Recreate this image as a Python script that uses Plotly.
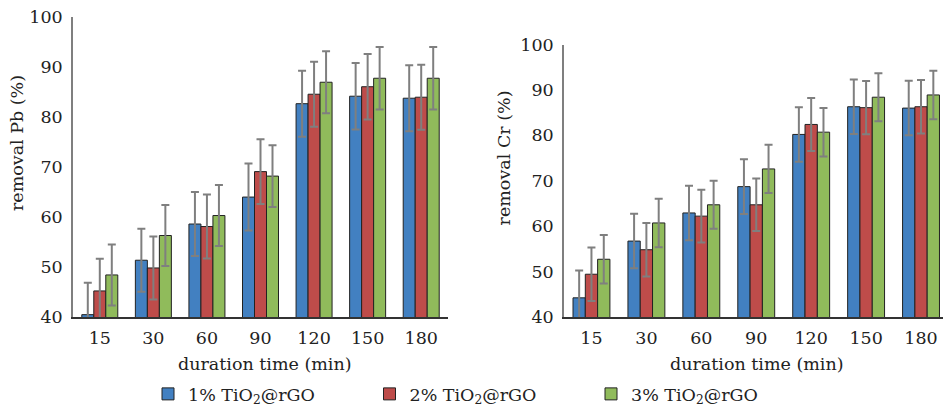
import plotly.graph_objects as go

categories = ["15", "30", "60", "90", "120", "150", "180"]
series_names = ["1% TiO<sub>2</sub>@rGO", "2% TiO<sub>2</sub>@rGO", "3% TiO<sub>2</sub>@rGO"]

pb_1 = [40.45, 51.35, 58.6, 64.0, 82.7, 84.2, 83.8]
pb_2 = [45.2, 49.8, 58.1, 69.1, 84.6, 86.1, 84.0]
pb_3 = [48.4, 56.3, 60.3, 68.2, 87.0, 87.8, 87.8]
pb_err_1 = [6.4, 6.3, 6.4, 6.7, 6.6, 6.65, 6.6]
pb_err_2 = [6.45, 6.3, 6.4, 6.5, 6.5, 6.55, 6.5]
pb_err_3 = [6.1, 6.1, 6.1, 6.2, 6.2, 6.25, 6.25]

cr_1 = [44.2, 56.7, 62.9, 68.7, 80.2, 86.3, 86.0]
cr_2 = [49.4, 54.8, 62.2, 64.7, 82.4, 86.1, 86.3]
cr_3 = [52.7, 60.7, 64.7, 72.6, 80.7, 88.4, 88.9]
cr_err_1 = [6.0, 6.0, 6.0, 6.05, 6.0, 6.0, 6.0]
cr_err_2 = [5.9, 5.9, 5.8, 5.8, 5.85, 5.85, 5.9]
cr_err_3 = [5.35, 5.35, 5.3, 5.3, 5.35, 5.3, 5.35]

colors = ["#4280C1", "#BE4C4A", "#90BB5B"]
FONT = "DejaVu Serif"
FS = 17.5
W, H = 943, 412

fig = go.Figure()
pb = [pb_1, pb_2, pb_3]
pb_err = [pb_err_1, pb_err_2, pb_err_3]
cr = [cr_1, cr_2, cr_3]
cr_err = [cr_err_1, cr_err_2, cr_err_3]

for i in range(3):
    fig.add_trace(go.Bar(
        x=categories, y=pb[i], name=series_names[i], legendgroup=str(i),
        marker=dict(color=colors[i], line=dict(color="#222222", width=1)),
        error_y=dict(type="data", array=pb_err[i], visible=True, color="#7F7F7F", thickness=2, width=4),
        xaxis="x", yaxis="y", showlegend=True,
    ))
for i in range(3):
    fig.add_trace(go.Bar(
        x=categories, y=cr[i], name=series_names[i], legendgroup=str(i),
        marker=dict(color=colors[i], line=dict(color="#222222", width=1)),
        error_y=dict(type="data", array=cr_err[i], visible=True, color="#7F7F7F", thickness=2, width=4),
        xaxis="x2", yaxis="y2", showlegend=False,
    ))

def px_x(p):
    return p / W

def px_y(p):
    return 1 - p / H

axis_common = dict(
    showgrid=False, zeroline=False, ticks="", showline=True, automargin=False,
    tickfont=dict(family=FONT, size=FS, color="#222222"),
)

fig.update_layout(
    template="none",
    width=W, height=H,
    margin=dict(l=0, r=0, t=0, b=0, pad=0),
    paper_bgcolor="white", plot_bgcolor="white",
    barmode="group", bargap=0.328, bargroupgap=0,
    font=dict(family=FONT, size=FS, color="#222222"),
    xaxis=dict(domain=[px_x(73), px_x(448)], anchor="y", type="category", range=[-0.5, 6.5],
               linecolor="#333333", linewidth=1.5, ticklabelstandoff=4, **axis_common),
    yaxis=dict(domain=[px_y(320), px_y(17.5)], anchor="x", range=[40, 100], dtick=10,
               linecolor="#7F7F7F", linewidth=1.5, ticklabelstandoff=5, **axis_common),
    xaxis2=dict(domain=[px_x(564), 1.0], anchor="y2", type="category", range=[-0.5, 6.4],
                linecolor="#333333", linewidth=1.5, ticklabelstandoff=4, **axis_common),
    yaxis2=dict(domain=[px_y(320), px_y(45)], anchor="x2", range=[40, 100], dtick=10,
                linecolor="#7F7F7F", linewidth=1.5, ticklabelstandoff=5, **axis_common),
    legend=dict(orientation="h", x=px_x(148), xanchor="left", y=px_y(398), yanchor="middle",
                font=dict(family=FONT, size=FS, color="#222222"),
                entrywidth=176.5, entrywidthmode="pixels", itemwidth=30,
                bgcolor="rgba(0,0,0,0)"),
)

titles = [
    ("duration time (min)", 265, 368, 0),
    ("duration time (min)", 756.5, 368, 0),
    ("removal Pb (%)", 16.5, 145, -90),
    ("removal Cr (%)", 503.5, 159.5, -90),
]
for text, xp, yp, ang in titles:
    fig.add_annotation(text=text, xref="paper", yref="paper", x=px_x(xp), y=px_y(yp),
                       xanchor="center", yanchor="middle", showarrow=False, textangle=ang,
                       font=dict(family=FONT, size=FS, color="#222222"))

fig.write_html("out.html", config={"displayModeBar": False},
               post_script="document.body.style.margin='0px';document.body.style.overflow='hidden';")
